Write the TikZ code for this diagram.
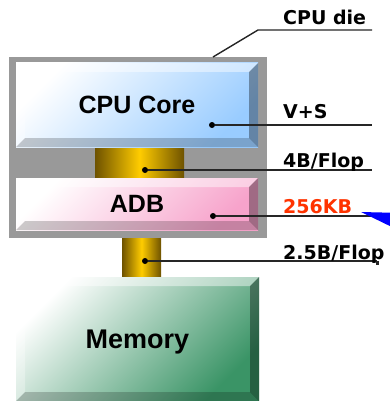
\documentclass[tikz,border=0pt]{standalone}
\usepackage{fontspec}
\setmainfont{Liberation Sans}
\newfontfamily\tagfont{DejaVu Sans}
\usetikzlibrary{arrows.meta}
\definecolor{die}{HTML}{999999}
\definecolor{corec}{HTML}{99CCFF}
\definecolor{adbc}{HTML}{F7A3CB}
\definecolor{memc}{HTML}{3A9466}
\definecolor{busdark}{HTML}{6E5200}
\definecolor{busgold}{HTML}{FFCC00}
\definecolor{kbred}{HTML}{FF3300}
\tikzset{
  block/.style={inner sep=0pt, outer sep=0pt, text depth=0pt, font=\fontsize{25}{25}\selectfont\bfseries,
    top color=white, bottom color=#1, shading angle=45},
  bus/.style={inner sep=0pt, outer sep=0pt, left color=busdark, right color=busdark, middle color=busgold},
  dot/.style={circle, fill=black, inner sep=0pt, outer sep=0pt, minimum size=6pt},
  leader/.style={line width=1.4pt, draw=black!85},
  tag/.style={font=\tagfont\fontsize{19}{19}\selectfont\bfseries, anchor=base west, inner sep=0pt},
}
\newcommand{\bevel}[1]{%
  \fill[white, opacity=0.45] (#1.north west) -- (#1.north east) -- ([shift={(-9,9)}]#1.north east) -- ([shift={(9,9)}]#1.north west) -- cycle;
  \fill[white, opacity=0.3] (#1.north west) -- ([shift={(9,9)}]#1.north west) -- ([shift={(9,-9)}]#1.south west) -- (#1.south west) -- cycle;
  \fill[black, opacity=0.35] (#1.north east) -- (#1.south east) -- ([shift={(-9,-9)}]#1.south east) -- ([shift={(-9,9)}]#1.north east) -- cycle;
  \fill[black, opacity=0.2] (#1.south west) -- ([shift={(9,-9)}]#1.south west) -- ([shift={(-9,-9)}]#1.south east) -- (#1.south east) -- cycle;}
\newcommand{\tagline}[6]{%
  \node[dot] (#1dot) at (#2,#3) {};
  \coordinate (#1end) at (#4,#3);
  \draw[leader] (#1dot) -- (#1end);
  \node[tag] (#1) at (283,#6) {#5};}

\begin{document}
\begin{tikzpicture}[x=1pt,y=-1pt]
  \useasboundingbox (0,0) rectangle (390,401);
  \node[fill=die, inner sep=0pt, outer sep=0pt, minimum width=258pt, minimum height=181pt] (die) at (138,147.5) {};
  \node[bus, minimum width=39pt, minimum height=38pt] (adbmem) at (141.5,257) {};
  \node[bus, minimum width=89pt, minimum height=31pt] (coreadb) at (139.5,162.5) {};
  \node[block=corec, minimum width=242pt, minimum height=84pt] (core) at (137,105) {CPU Core};
  \node[block=adbc, minimum width=242pt, minimum height=52pt] (adb) at (137,204) {ADB};
  \node[block=memc, minimum width=243pt, minimum height=124pt, font=\fontsize{27}{27}\selectfont\bfseries] (mem) at (137.5,339) {Memory};
  \foreach \b in {core,adb,mem} {\bevel{\b}}

  \coordinate (diepin) at ([xshift=75pt]die.north);
  \coordinate (diebend) at (258,30);
  \coordinate (dieend) at (372,30);
  \draw[leader] (diepin) -- (diebend) -- (dieend);
  \node[tag] (dielbl) at (283,25) {CPU die};

  \tagline{vs}{212}{125}{372}{V+S}{118}
  \tagline{bw}{145}{170}{372}{4B/Flop}{167}
  \tagline{kb}{213}{216}{390}{\textcolor{kbred}{256KB}}{213}
  \tagline{mbw}{145}{261}{377}{2.5B/Flop}{259}
  \draw[line width=3pt, draw=black!85] (mbwend) -- ++(0,4);

  \begin{scope}
    \clip (0,0) rectangle (390,401);
    \coordinate (kbtip) at (361,212);
    \coordinate (kbtail) at (460,236);
    \draw[blue, line width=1.5pt, -{Triangle[length=40pt,width=17pt]}] (kbtail) -- (kbtip);
  \end{scope}
\end{tikzpicture}
\end{document}
